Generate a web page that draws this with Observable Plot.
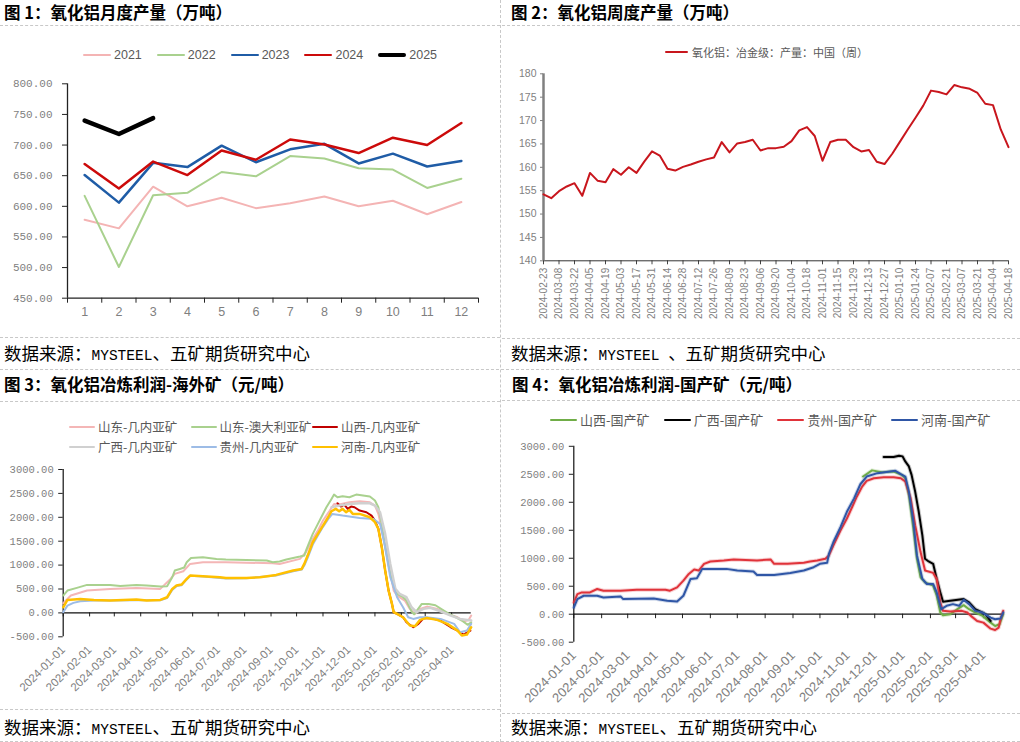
<!DOCTYPE html>
<html><head><meta charset="utf-8">
<script src="https://cdn.jsdelivr.net/npm/d3@7"></script>
<script src="https://cdn.jsdelivr.net/npm/@observablehq/plot@0.6"></script>
<style>
body{margin:0;background:#fff;}
#page{position:relative;width:1020px;height:742px;overflow:hidden;background:#fff;font-family:"Noto Sans CJK SC",sans-serif;}
.hd{position:absolute;border-top:1px dashed #c8c8c8;height:0;}
.vd{position:absolute;border-left:1px dashed #c8c8c8;width:0;}
.title{position:absolute;font-weight:700;font-size:16.5px;line-height:24px;color:#000;white-space:nowrap;}
.src{position:absolute;font-size:17.5px;line-height:26px;color:#000;white-space:nowrap;}
.src .lat{font-family:"Liberation Mono",monospace;font-size:14.5px;}
.leg{position:absolute;color:#595959;white-space:nowrap;display:flex;align-items:center;}
.leg .sw{display:inline-block;}
.plot{position:absolute;}
.plot svg{overflow:visible;}
</style></head>
<body>
<div id="page"></div>
<script>
// ---------- DATA ----------
// Panel 1: monthly alumina output (10k t)
const p1Months = [1,2,3,4,5,6,7,8,9,10,11,12];
const p1Years = ["2021","2022","2023","2024","2025"];
const p1_2021 = [578,564,632,600,614,597,605,616,600,609,587,607];
const p1_2022 = [617,501,618,622,656,649,682,678,662,660,630,645];
const p1_2023 = [651,606,671,664,699,672,693,702,670,686,665,674];
const p1_2024 = [669,629,673,651,691,676,709,701,687,712,700,736];
const p1_2025 = [740,718,744];
const p1YTicks = [450,500,550,600,650,700,750,800];

// Panel 2: weekly output, first week 2024-02-23
const p2Start = "2024-02-23";
const p2Values = [154.2,153.4,154.9,155.9,156.6,153.9,158.8,157.1,156.8,159.6,
  158.4,160.0,158.8,161.2,163.4,162.5,159.7,159.3,160.1,160.6,
  161.2,161.7,162.1,165.4,163.2,165.1,165.4,165.9,163.6,164.1,
  164.1,164.4,165.6,167.9,168.6,166.7,161.4,165.4,165.9,165.9,
  164.3,163.4,163.7,161.2,160.7,162.9,165.5,168.1,170.6,173.2,
  176.4,176.1,175.6,177.6,177.1,176.8,175.9,173.6,173.3,168.1,164.3];
const p2Ticks = ["2024-02-23","2024-03-08","2024-03-22","2024-04-05","2024-04-19","2024-05-03","2024-05-17","2024-05-31",
  "2024-06-14","2024-06-28","2024-07-12","2024-07-26","2024-08-09","2024-08-23","2024-09-06","2024-09-20",
  "2024-10-04","2024-10-18","2024-11-01","2024-11-15","2024-11-29","2024-12-13","2024-12-27","2025-01-10",
  "2025-01-24","2025-02-07","2025-02-21","2025-03-07","2025-03-21","2025-04-04","2025-04-18"];
const p2YTicks = [140,145,150,155,160,165,170,175,180];

// Panels 3 & 4: month ticks and y ticks
const monthTicks = ["2024-01-01","2024-02-01","2024-03-01","2024-04-01","2024-05-01","2024-06-01","2024-07-01","2024-08-01",
  "2024-09-01","2024-10-01","2024-11-01","2024-12-01","2025-01-01","2025-02-01","2025-03-01","2025-04-01"];
const profitYTicks = [-500,0,500,1000,1500,2000,2500,3000];

// Panel 3: imported-ore profit (yuan/t)
const p3_sdGuinea = [["2024-01-01",202],["2024-01-10",363],["2024-01-29",467],["2024-02-25",502],["2024-03-27",523],["2024-04-24",502],["2024-05-06",711],["2024-05-11",816],["2024-05-21",872],["2024-05-29",1025],["2024-06-13",1060],["2024-07-10",1060],["2024-09-03",1039],["2024-09-11",1025],["2024-10-05",1130],["2024-10-12",1269],["2024-10-20",1548],["2024-10-26",1722],["2024-11-01",1932],["2024-11-09",2141],["2024-11-14",2280],["2024-11-20",2266],["2024-12-02",2315],["2024-12-14",2336],["2024-12-26",2315],["2025-01-01",2245],["2025-01-05",2071],["2025-01-11",1583],["2025-01-17",1025],["2025-01-23",467],["2025-01-27",363],["2025-02-05",258],["2025-02-11",84],["2025-02-17",-21],["2025-02-23",84],["2025-03-03",132],["2025-03-15",84],["2025-03-27",-21],["2025-04-08",-91],["2025-04-15",-180],["2025-04-21",-150],["2025-04-24",-56]];
const p3_sdAus = [["2024-01-01",363],["2024-01-06",467],["2024-01-17",523],["2024-01-29",586],["2024-02-25",586],["2024-03-08",565],["2024-03-27",586],["2024-04-08",572],["2024-04-24",551],["2024-05-02",560],["2024-05-08",746],["2024-05-11",886],["2024-05-17",920],["2024-05-22",950],["2024-05-25",1060],["2024-05-30",1150],["2024-06-13",1164],["2024-06-29",1130],["2024-07-10",1116],["2024-08-03",1109],["2024-08-27",1095],["2024-09-03",1060],["2024-09-11",1074],["2024-09-19",1116],["2024-09-27",1150],["2024-10-05",1178],["2024-10-10",1199],["2024-10-12",1304],["2024-10-16",1478],["2024-10-20",1653],["2024-10-26",1862],["2024-10-30",2001],["2024-11-05",2210],["2024-11-11",2385],["2024-11-14",2475],["2024-11-18",2420],["2024-11-24",2440],["2024-12-02",2420],["2024-12-10",2475],["2024-12-18",2455],["2024-12-26",2434],["2025-01-01",2350],["2025-01-05",2210],["2025-01-09",1862],["2025-01-13",1374],["2025-01-19",816],["2025-01-23",537],["2025-01-27",397],["2025-02-03",328],["2025-02-07",258],["2025-02-13",30],["2025-02-16",-30],["2025-02-25",188],["2025-03-05",188],["2025-03-13",160],["2025-03-21",70],["2025-03-29",-21],["2025-04-06",-91],["2025-04-13",-160],["2025-04-20",-250],["2025-04-24",-195]];
const p3_sxGuinea = [["2024-11-18",2294],["2024-11-22",2224],["2024-11-26",2266],["2024-11-30",2176],["2024-12-04",2224],["2024-12-08",2210],["2024-12-14",2141],["2024-12-22",2106],["2024-12-28",2036],["2025-01-01",1932],["2025-01-05",1757],["2025-01-09",1374],["2025-01-13",886],["2025-01-17",467],["2025-01-21",188],["2025-01-23",14],["2025-01-27",-21],["2025-02-03",-91],["2025-02-07",-195],["2025-02-15",-300],["2025-02-21",-230],["2025-02-27",-112],["2025-03-07",-105],["2025-03-19",-160],["2025-03-31",-300],["2025-04-08",-370],["2025-04-15",-453],["2025-04-23",-370]];
const p3_gxGuinea = [["2024-11-11",2210],["2024-11-20",2245],["2024-12-02",2280],["2024-12-14",2294],["2024-12-26",2294],["2025-01-01",2245],["2025-01-07",2106],["2025-01-13",1653],["2025-01-19",1025],["2025-01-25",502],["2025-01-30",397],["2025-02-07",328],["2025-02-13",118],["2025-02-19",14],["2025-02-27",84],["2025-03-07",105],["2025-03-19",35],["2025-03-31",-56],["2025-04-11",-126],["2025-04-24",-160]];
const p3_gzGuinea = [["2024-01-01",14],["2024-01-06",153],["2024-01-13",210],["2024-01-21",244],["2024-02-06",258],["2024-02-25",258],["2024-03-27",265],["2024-04-24",265],["2024-05-02",310],["2024-05-08",480],["2024-05-13",560],["2024-05-19",580],["2024-05-25",700],["2024-05-29",775],["2024-06-13",760],["2024-07-10",720],["2024-08-03",725],["2024-09-07",780],["2024-09-27",870],["2024-10-07",905],["2024-10-10",990],["2024-10-14",1150],["2024-10-20",1430],["2024-10-26",1620],["2024-11-01",1800],["2024-11-07",1960],["2024-11-12",2071],["2024-11-24",2036],["2024-12-14",1987],["2024-12-30",1966],["2025-01-07",1862],["2025-01-13",1374],["2025-01-19",746],["2025-01-27",328],["2025-02-03",118],["2025-02-09",-91],["2025-02-15",-126],["2025-02-23",-91],["2025-03-03",-91],["2025-03-19",-126],["2025-04-04",-230],["2025-04-11",-405],["2025-04-19",-370],["2025-04-24",-230]];
const p3_hnGuinea = [["2024-01-01",118],["2024-01-06",272],["2024-01-21",293],["2024-02-06",272],["2024-02-25",258],["2024-03-27",279],["2024-04-08",258],["2024-04-24",272],["2024-05-02",328],["2024-05-08",502],["2024-05-13",572],["2024-05-19",593],["2024-05-25",711],["2024-05-29",781],["2024-06-13",767],["2024-07-03",746],["2024-07-10",732],["2024-08-03",732],["2024-08-19",746],["2024-09-07",795],["2024-09-27",886],["2024-10-07",920],["2024-10-10",1025],["2024-10-14",1199],["2024-10-20",1478],["2024-10-26",1653],["2024-11-01",1827],["2024-11-07",2001],["2024-11-11",2127],["2024-11-16",2176],["2024-11-20",2127],["2024-11-24",2176],["2024-11-28",2106],["2024-12-02",2155],["2024-12-06",2071],["2024-12-14",2071],["2024-12-26",2001],["2025-01-01",1897],["2025-01-05",1757],["2025-01-09",1374],["2025-01-13",886],["2025-01-17",467],["2025-01-21",188],["2025-01-23",14],["2025-01-27",-21],["2025-02-03",-91],["2025-02-11",-265],["2025-02-17",-279],["2025-02-23",-146],["2025-03-03",-105],["2025-03-15",-146],["2025-03-27",-230],["2025-04-08",-370],["2025-04-13",-474],["2025-04-19",-453],["2025-04-24",-300]];

// Panel 4: domestic-ore profit (yuan/t)
const p4_sx = [["2024-11-18",2460],["2024-11-28",2570],["2024-12-09",2538],["2024-12-22",2550],["2024-12-31",2490],["2025-01-04",2430],["2025-01-08",2130],["2025-01-13",1530],["2025-01-17",990],["2025-01-21",660],["2025-01-26",570],["2025-02-04",510],["2025-02-08",330],["2025-02-12",30],["2025-02-15",-18],["2025-02-23",0],["2025-03-03",90],["2025-03-10",162],["2025-03-16",90],["2025-03-23",30],["2025-03-31",-30],["2025-04-09",-150],["2025-04-14",-210],["2025-04-19",-180],["2025-04-23",0]];
const p4_gx = [["2024-12-11",2808],["2024-12-22",2808],["2024-12-28",2832],["2025-01-01",2820],["2025-01-04",2730],["2025-01-08",2640],["2025-01-11",2490],["2025-01-15",2190],["2025-01-19",1830],["2025-01-23",1410],["2025-01-26",990],["2025-01-30",942],["2025-02-04",900],["2025-02-08",630],["2025-02-12",390],["2025-02-15",222],["2025-02-23",240],["2025-03-10",270],["2025-03-16",210],["2025-03-23",90],["2025-03-31",30],["2025-04-03",0],["2025-04-09",-120]];
const p4_gz = [["2024-01-01",210],["2024-01-05",360],["2024-01-10",390],["2024-01-19",390],["2024-01-27",450],["2024-02-03",420],["2024-02-22",420],["2024-03-11",438],["2024-04-12",438],["2024-04-17",420],["2024-04-25",480],["2024-05-02",600],["2024-05-08",720],["2024-05-14",798],["2024-05-19",780],["2024-05-25",900],["2024-06-01",942],["2024-06-16",960],["2024-06-27",978],["2024-07-23",960],["2024-08-07",978],["2024-08-11",900],["2024-08-26",900],["2024-09-13",918],["2024-09-20",942],["2024-09-28",960],["2024-10-07",990],["2024-10-11",1050],["2024-10-16",1230],["2024-10-24",1500],["2024-10-31",1710],["2024-11-06",1920],["2024-11-11",2100],["2024-11-17",2280],["2024-11-22",2382],["2024-11-30",2430],["2024-12-11",2448],["2024-12-22",2448],["2024-12-30",2430],["2025-01-04",2370],["2025-01-10",2070],["2025-01-15",1590],["2025-01-21",1110],["2025-01-26",780],["2025-02-04",738],["2025-02-08",630],["2025-02-12",210],["2025-02-15",60],["2025-02-23",48],["2025-03-08",60],["2025-03-14",30],["2025-03-18",-30],["2025-03-25",-120],["2025-04-01",-150],["2025-04-09",-258],["2025-04-14",-282],["2025-04-18",-240],["2025-04-20",-90],["2025-04-23",60]];
const p4_hn = [["2024-01-01",120],["2024-01-05",270],["2024-01-12",330],["2024-01-27",330],["2024-02-03",300],["2024-02-22",318],["2024-02-25",270],["2024-03-30",282],["2024-04-14",240],["2024-04-25",228],["2024-05-02",330],["2024-05-10",630],["2024-05-17",642],["2024-05-23",810],["2024-06-19",810],["2024-07-01",780],["2024-07-19",762],["2024-07-23",702],["2024-08-11",702],["2024-08-29",738],["2024-09-13",780],["2024-09-24",840],["2024-10-01",900],["2024-10-09",918],["2024-10-11",1080],["2024-10-16",1290],["2024-10-24",1560],["2024-10-31",1830],["2024-11-08",2070],["2024-11-15",2322],["2024-11-22",2460],["2024-12-04",2520],["2024-12-18",2550],["2024-12-24",2562],["2024-12-30",2502],["2025-01-04",2460],["2025-01-08",2190],["2025-01-13",1650],["2025-01-17",1050],["2025-01-23",630],["2025-01-28",540],["2025-02-04",540],["2025-02-08",390],["2025-02-13",90],["2025-02-19",150],["2025-02-26",180],["2025-03-05",150],["2025-03-10",258],["2025-03-16",180],["2025-03-23",60],["2025-03-31",30],["2025-04-09",-60],["2025-04-14",-90],["2025-04-20",-78],["2025-04-23",30]];

// ---------- LAYOUT ----------
const page = document.getElementById("page");
function el(cls, css, html){ const d=document.createElement("div"); d.className=cls; Object.assign(d.style, css); if(html!==undefined) d.innerHTML=html; page.appendChild(d); return d; }
const parse = s => new Date(s + "T00:00:00Z");
const fmtDate = d3.utcFormat("%Y-%m-%d");
const GRAY = "#7f7f7f";
const SANS = "Liberation Sans, Arial, sans-serif";
const MONO = "Liberation Mono, monospace";

function place(svg, left, top, w){ const d=el("plot",{left:left+"px",top:top+"px",width:w+"px"}); d.appendChild(svg); }

function legend(left, top, items, {fontSize=12, swW=28, gap=3, cols=null, colW=null, rowH=20, family="Noto Sans CJK SC"}={}){
  const box = el("leg",{left:left+"px",top:top+"px",fontSize:fontSize+"px",fontFamily:family});
  if (cols){ box.style.display="grid"; box.style.gridTemplateColumns=`repeat(${cols}, ${colW}px)`; box.style.gridAutoRows=rowH+"px"; }
  items.forEach(([name,color,w],i)=>{
    const it=document.createElement("div"); it.style.display="flex"; it.style.alignItems="center";
    if(!cols && i>0) it.style.marginLeft = (items.gapBetween||12)+"px";
    const sw=document.createElement("span"); sw.className="sw"; sw.style.width=swW+"px"; sw.style.height=w+"px"; sw.style.background=color; sw.style.borderRadius=(w/2)+"px";
    const tx=document.createElement("span"); tx.textContent=name; tx.style.marginLeft=gap+"px"; tx.style.lineHeight=rowH+"px";
    it.appendChild(sw); it.appendChild(tx); box.appendChild(it);
  });
  return box;
}

// dashed dividers
el("vd",{left:"500px",top:"0px",height:"742px"});
el("hd",{left:"0px",top:"25px",width:"500px"});
el("hd",{left:"502px",top:"25px",width:"518px"});
el("hd",{left:"0px",top:"337px",width:"500px"});
el("hd",{left:"502px",top:"338px",width:"518px"});
el("hd",{left:"0px",top:"369px",width:"1020px"});
el("hd",{left:"0px",top:"401px",width:"500px"});
el("hd",{left:"502px",top:"400px",width:"518px"});
el("hd",{left:"0px",top:"709px",width:"500px"});
el("hd",{left:"502px",top:"713px",width:"518px"});
el("hd",{left:"0px",top:"741px",width:"1020px"});

// titles
el("title",{left:"4px",top:"0px"},"图 1：氧化铝月度产量（万吨）");
el("title",{left:"511px",top:"0px"},"图 2：氧化铝周度产量（万吨）");
el("title",{left:"4px",top:"372px"},"图 3：氧化铝冶炼利润-海外矿（元/吨）");
el("title",{left:"512px",top:"372px"},"图 4：氧化铝冶炼利润-国产矿（元/吨）");
// sources
el("src",{left:"4px",top:"340px"},'数据来源：<span class="lat">MYSTEEL</span>、五矿期货研究中心');
el("src",{left:"511px",top:"340px"},'数据来源：<span class="lat">MYSTEEL </span>、五矿期货研究中心');
el("src",{left:"4px",top:"714px"},'数据来源：<span class="lat">MYSTEEL</span>、五矿期货研究中心');
el("src",{left:"511px",top:"714px"},'数据来源：<span class="lat">MYSTEEL</span>、五矿期货研究中心');

const baseStyle = {background:"none", overflow:"visible", color:GRAY, fontFamily:SANS};

// ---------- PANEL 1 ----------
const p1Colors = ["#f4b4b4","#a9d18e","#1f5ca6","#cc0a0a","#000000"];
const p1Widths = [2,2,2.5,2.5,4.5];
const p1Series = [p1_2021,p1_2022,p1_2023,p1_2024,p1_2025];
const p1 = Plot.plot({
  width:500, height:305, marginLeft:67, marginRight:22, marginTop:53.3, marginBottom:37.3,
  style: baseStyle,
  x:{domain:[0.5,12.5]}, y:{domain:[450,800]},
  marks:[
    Plot.axisY({ticks:p1YTicks, tickSize:5, tickPadding:10, tickFormat:d=>d.toFixed(2), stroke:"#222", fill:GRAY, fontFamily:MONO, fontSize:11, label:null}),
    Plot.axisX({ticks:p1Months.map(m=>m-0.5).concat([12.5]), tickSize:5, tickFormat:()=>"", stroke:"#222", label:null}),
    Plot.axisX({ticks:p1Months, tickSize:0, tickPadding:9, fill:GRAY, fontSize:12.5, fontFamily:SANS, label:null}),
    Plot.ruleX([0.5],{stroke:"#222", strokeWidth:1.3}),
    Plot.ruleY([450],{stroke:"#222", strokeWidth:1.3}),
    ...p1Series.map((s,k)=>Plot.line(s,{x:(d,i)=>p1Months[i], y:d=>d, stroke:p1Colors[k], strokeWidth:p1Widths[k], strokeLinejoin:"round"}))
  ]
});
place(p1, 0, 30, 500);
{
  const items = p1Years.map((y,k)=>[y,p1Colors[k],p1Widths[k]]); items.gapBetween = 15;
  legend(83, 45, items, {fontSize:12.5, swW:28, gap:3, family:SANS});
}

// ---------- PANEL 2 ----------
const p2Data = p2Values.map((v,i)=>({date:d3.utcDay.offset(parse(p2Start), 7*i), v}));
const p2 = Plot.plot({
  width:518, height:305, marginLeft:41, marginRight:12, marginTop:43.3, marginBottom:74.7,
  style: baseStyle,
  x:{type:"utc", domain:[parse(p2Ticks[0]), parse(p2Ticks[p2Ticks.length-1])]},
  y:{domain:[140,180]},
  marks:[
    Plot.axisY({ticks:p2YTicks, tickSize:3, tickPadding:4, stroke:GRAY, fill:GRAY, fontSize:10.5, fontFamily:SANS, label:null}),
    Plot.axisX({ticks:p2Ticks.map(parse), tickSize:4, tickPadding:3, tickRotate:-90, tickFormat:fmtDate, stroke:"#444", fill:GRAY, fontSize:10, fontFamily:SANS, label:null}),
    Plot.ruleY([140],{stroke:"#333"}),
    Plot.ruleX([parse(p2Ticks[0])],{stroke:"#808080", strokeWidth:2.5}),
    Plot.line(p2Data,{x:"date", y:"v", stroke:"#c8161d", strokeWidth:2, strokeLinejoin:"round"})
  ]
});
place(p2, 502, 30, 518);
legend(665, 42, [["氧化铝：冶金级：产量：中国（周）","#c8161d",2.5]], {fontSize:11, swW:23, gap:4});

// ---------- PANEL 3 ----------
const p3Series = [
  ["山东-几内亚矿", p3_sdGuinea, "#f4b6b6", 2],
  ["山东-澳大利亚矿", p3_sdAus, "#a9d18e", 2],
  ["山西-几内亚矿", p3_sxGuinea, "#c00000", 2],
  ["广西-几内亚矿", p3_gxGuinea, "#d0d0d0", 2.5],
  ["贵州-几内亚矿", p3_gzGuinea, "#9dbce6", 2],
  ["河南-几内亚矿", p3_hnGuinea, "#ffc000", 2.5]
];
function profitPlot({width, marginLeft, marginRight, marginTop, marginBottom, xEnd, series, labelSize, tickLen, halo}){
  const lines = [];
  series.forEach(([name,s,c,w])=>{
    if (halo) lines.push(Plot.line(s,{x:d=>parse(d[0]), y:d=>d[1], stroke:c, strokeWidth:w+2, strokeOpacity:0.22, strokeLinejoin:"round"}));
    lines.push(Plot.line(s,{x:d=>parse(d[0]), y:d=>d[1], stroke:c, strokeWidth:w, strokeLinejoin:"round"}));
  });
  return Plot.plot({
    width, height:300, marginLeft, marginRight, marginTop, marginBottom,
    style: baseStyle,
    x:{type:"utc", domain:[parse(monthTicks[0]), parse(xEnd)]},
    y:{domain:[-500,3000]},
    marks:[
      Plot.axisY({ticks:profitYTicks, tickSize:4.5, tickPadding:5, tickFormat:d=>d.toFixed(2), stroke:"#222", fill:GRAY, fontSize:10.5, fontFamily:MONO, label:null}),
      Plot.axisX({ticks:monthTicks.map(parse), tickSize:0, tickPadding:11, tickRotate:-45, tickFormat:fmtDate, fill:GRAY, fontSize:labelSize, fontFamily:SANS, label:null}),
      Plot.ruleX(monthTicks.map(parse), {y1:0, y2:-tickLen, stroke:"#222"}),
      Plot.ruleY([0],{stroke:"#111", strokeWidth:1.2}),
      Plot.ruleX([parse(monthTicks[0])],{stroke:"#111", strokeWidth:1.2}),
      ...lines
    ]
  });
}
const p3 = profitPlot({width:500, marginLeft:62.7, marginRight:29.3, marginTop:64, marginBottom:68.7, xEnd:"2025-04-24", series:p3Series, labelSize:11.5, tickLen:84, halo:false});
place(p3, 0, 405, 500);
legend(69, 417, p3Series.map(([n,s,c])=>[n,c,2.5]), {fontSize:12.5, swW:26, gap:3, cols:3, colW:121.5, rowH:20});

// ---------- PANEL 4 ----------
const p4Series = [
  ["山西-国产矿", p4_sx, "#70ad47", 2],
  ["广西-国产矿", p4_gx, "#000000", 2],
  ["贵州-国产矿", p4_gz, "#e0333a", 2],
  ["河南-国产矿", p4_hn, "#2f56a6", 2]
];
const p4 = profitPlot({width:518, marginLeft:71.3, marginRight:17.3, marginTop:40.8, marginBottom:63.3, xEnd:"2025-04-23", series:p4Series, labelSize:13, tickLen:80, halo:true});
place(p4, 502, 405, 518);
legend(550, 410, p4Series.map(([n,s,c])=>[n,c,2.5]), {fontSize:13, swW:27, gap:3, cols:4, colW:113.7, rowH:20});
</script>
</body></html>
